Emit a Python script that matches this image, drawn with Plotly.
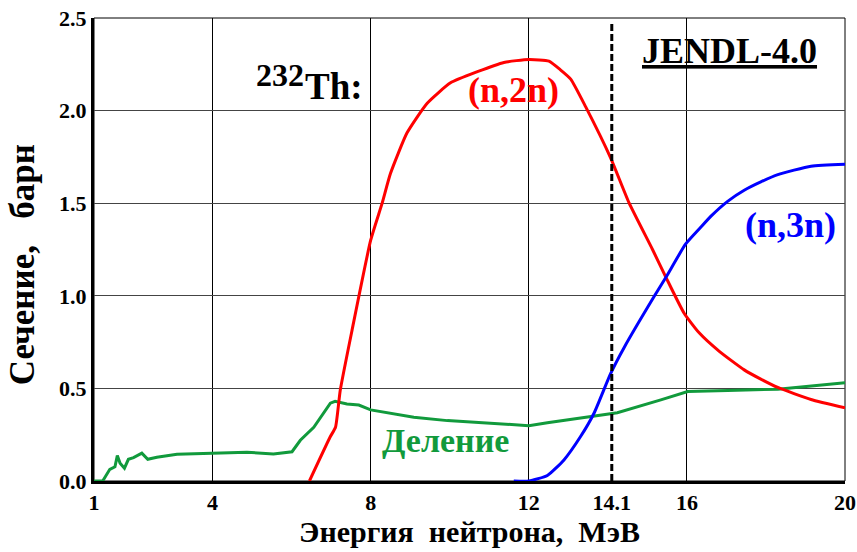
import plotly.graph_objects as go

# Neutron energy (MeV) and cross sections (barn), JENDL-4.0, Th-232
fission_e = [1.0, 1.22, 1.4, 1.53, 1.59, 1.66, 1.77, 1.87, 2.0, 2.21, 2.36, 2.59, 3.1,
             4.0, 4.87, 5.54, 6.01, 6.22, 6.56, 6.98, 7.1, 7.4, 7.7, 8.0, 8.25, 9.09,
             9.94, 10.78, 11.63, 12.0, 12.47, 13.31, 14.07, 14.24, 15.34, 16.02,
             17.03, 18.3, 20.0]
fission_xs = [0.0, 0.0, 0.063, 0.077, 0.137, 0.096, 0.069, 0.117, 0.126, 0.15, 0.117,
              0.128, 0.144, 0.15, 0.155, 0.146, 0.158, 0.22, 0.29, 0.42, 0.43, 0.416,
              0.41, 0.384, 0.375, 0.344, 0.326, 0.315, 0.304, 0.299, 0.315, 0.340,
              0.360, 0.369, 0.438, 0.483, 0.488, 0.496, 0.531]

n2n_e = [6.45, 6.98, 7.11, 7.23, 7.53, 8.0, 8.29, 8.5, 8.92, 9.43, 10.02, 10.7, 11.37,
         12.0, 12.51, 12.8, 13.06, 13.44, 14.07, 14.54, 15.13, 15.47, 15.93, 16.31,
         16.82, 17.45, 17.87, 18.3, 19.14, 20.0]
n2n_xs = [0.0, 0.24, 0.29, 0.49, 0.816, 1.30, 1.50, 1.66, 1.88, 2.04, 2.15, 2.21, 2.26,
          2.276, 2.267, 2.22, 2.17, 2.02, 1.745, 1.50, 1.25, 1.10, 0.906, 0.80, 0.70,
          0.60, 0.55, 0.505, 0.44, 0.395]

n3n_e = [11.62, 12.0, 12.47, 12.89, 13.31, 13.65, 14.07, 14.41, 15.17, 15.47,
         15.97, 16.35, 16.61, 17.03, 17.45, 17.87, 18.3, 19.14, 20.0]
n3n_xs = [0.0, 0.0, 0.03, 0.114, 0.24, 0.366, 0.58, 0.72, 0.996, 1.10, 1.28,
          1.37, 1.43, 1.51, 1.57, 1.615, 1.654, 1.70, 1.71]

# Reference energy of the D-T neutrons
dt_energy = 14.1
dt_line_y = [0.0, 2.47]

x_tick_vals = [1, 4, 8, 12, 14.1, 16, 20]
x_tick_text = ["1", "4", "8", "12", "14.1", "16", "20"]
x_grid_vals = [4, 8, 12, 16]
y_tick_vals = [0.0, 0.5, 1.0, 1.5, 2.0, 2.5]

NBSP = "\u00a0"
X_TITLE = f"Энергия{NBSP*2}нейтрона,{NBSP*2}МэВ"
Y_TITLE = f"Сечение,{NBSP*3}барн"

RED = "#ff0000"
BLUE = "#0000ff"
GREEN = "#119a3c"
SERIF = "Liberation Serif, Times New Roman, DejaVu Serif, serif"

fig = go.Figure()
fig.add_trace(go.Scatter(x=fission_e, y=fission_xs, mode="lines",
                         line=dict(color=GREEN, width=3)))
fig.add_trace(go.Scatter(x=n2n_e, y=n2n_xs, mode="lines",
                         line=dict(color=RED, width=3, shape="spline", smoothing=0.5)))
fig.add_trace(go.Scatter(x=n3n_e, y=n3n_xs, mode="lines",
                         line=dict(color=BLUE, width=3, shape="spline", smoothing=0.5)))
fig.add_trace(go.Scatter(x=[dt_energy, dt_energy], y=dt_line_y, mode="lines",
                         line=dict(color="black", width=3, dash="7px,3px")))

def label(text, x, y, color, size, **kw):
    fig.add_annotation(x=x, y=y, text=text, showarrow=False,
                       font=dict(family=SERIF, size=size, color=color, weight="bold"), **kw)

# nuclide label: mass number as a raised prefix
label("232", 5.71, 2.19, "black", 32)
label("Th:", 7.08, 2.13, "black", 37)
label("(n,2n)", 11.62, 2.11, RED, 36)
label("(n,3n)", 18.63, 1.38, BLUE, 36)
label("Деление", 9.89, 0.22, GREEN, 34)
label("<u>JENDL-4.0</u>", 17.09, 2.32, "black", 36)

# y-axis title, drawn as a rotated annotation
label(Y_TITLE, -0.0959, 0.468, "black", 35, xref="paper", yref="paper",
      textangle=-90, xanchor="center", yanchor="middle")

# thin frame on the top and right sides
fig.add_shape(type="rect", xref="paper", yref="paper", x0=0, y0=0, x1=1, y1=1,
              line=dict(color="black", width=1), layer="below")

tickfont = dict(family=SERIF, size=22, color="black", weight="bold")

fig.update_layout(
    width=857, height=552,
    margin=dict(l=94, r=12, t=18, b=71, autoexpand=False),
    paper_bgcolor="white", plot_bgcolor="white",
    showlegend=False,
    xaxis=dict(range=[1, 20], tickmode="array", tickvals=x_tick_vals,
               ticktext=x_tick_text, showgrid=False, zeroline=False,
               showline=True, linecolor="black", linewidth=3, ticks="",
               tickfont=tickfont, automargin=False,
               minor=dict(tickmode="array", tickvals=x_grid_vals, showgrid=True,
                          gridcolor="black", gridwidth=1, ticks=""),
               title=dict(text=X_TITLE,
                          font=dict(family=SERIF, size=30, color="black",
                                    weight="bold"), standoff=4)),
    yaxis=dict(range=[0, 2.5], tickmode="array", tickvals=y_tick_vals,
               tickformat=".1f", showgrid=True, gridcolor="#444444", gridwidth=1,
               zeroline=False, showline=True, linecolor="black", linewidth=3,
               ticks="", tickfont=tickfont, automargin=False),
)

fig.write_html("out.html")
